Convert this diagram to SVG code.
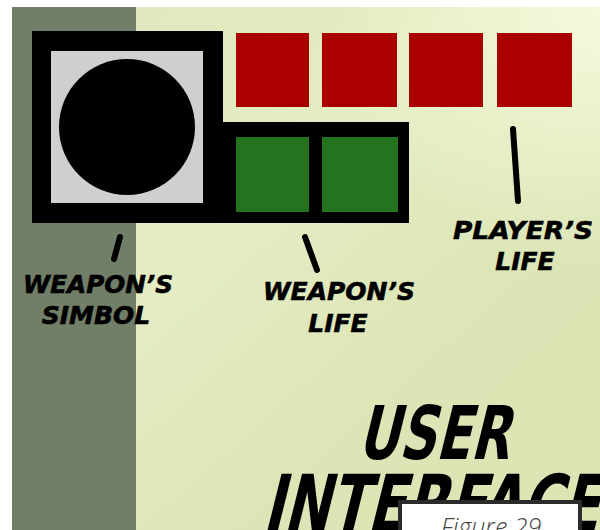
<svg xmlns="http://www.w3.org/2000/svg" width="600" height="530" viewBox="0 0 600 530">
  <defs>
    <linearGradient id="bg" x1="0" y1="0" x2="1" y2="1">
      <stop offset="0" stop-color="#dfe8bb"/>
      <stop offset="0.4" stop-color="#e4edc3"/>
      <stop offset="0.7" stop-color="#dbe5b5"/>
      <stop offset="1" stop-color="#dce6b4"/>
    </linearGradient>
    <radialGradient id="tr" cx="600" cy="10" r="260" gradientUnits="userSpaceOnUse">
      <stop offset="0" stop-color="#f5fadd" stop-opacity="0.95"/>
      <stop offset="1" stop-color="#f5fadd" stop-opacity="0"/>
    </radialGradient>
  </defs>
  <style>
    .red { fill: #ab0000; }
    .green { fill: #25721f; }
    .lbl { font-family: "DejaVu Sans", Verdana, sans-serif; font-weight: bold; font-style: italic; font-size: 25px; fill: #000; stroke: #000; stroke-width: 0.6; text-anchor: middle; }
    .brush { font-family: "DejaVu Sans Condensed", "DejaVu Sans", sans-serif; font-weight: bold; fill: #000; }
    .lead { stroke: #000; stroke-width: 6; stroke-linecap: round; fill: none; }
  </style>

  <!-- background -->
  <rect x="0" y="0" width="600" height="530" fill="#ffffff"/>
  <rect x="12" y="7" width="588" height="523" fill="url(#bg)"/>
  <rect x="136" y="7" width="464" height="523" fill="url(#tr)"/>
  <rect x="12" y="7" width="124" height="523" fill="#717e68"/>

  <!-- weapon symbol + weapon life frame -->
  <g id="weapon-symbol">
    <polygon points="32,31 223,31 223,122 409,122 409,223 32,223" fill="#000"/>
    <rect x="51" y="51" width="152" height="152" fill="#cfcfcf"/>
    <circle cx="127" cy="127" r="68" fill="#000"/>
  </g>

  <g id="weapon-life">
    <rect class="green" x="236" y="137" width="73" height="75"/>
    <rect class="green" x="322" y="137" width="76" height="75"/>
  </g>

  <g id="player-life">
    <rect class="red" x="236" y="33" width="73" height="74"/>
    <rect class="red" x="322" y="33" width="75" height="74"/>
    <rect class="red" x="409" y="33" width="74" height="74"/>
    <rect class="red" x="497" y="33" width="75" height="74"/>
  </g>

  <!-- connectors -->
  <g id="connectors">
    <line class="lead" x1="120" y1="237" x2="114" y2="259"/>
    <line class="lead" x1="305" y1="237" x2="317" y2="270"/>
    <line class="lead" x1="513" y1="129" x2="518" y2="201"/>
  </g>

  <!-- labels -->
  <g id="label-weapon-symbol">
    <text class="lbl" x="98" y="293" textLength="150" lengthAdjust="spacingAndGlyphs">WEAPON’S</text>
    <text class="lbl" x="96" y="324">SIMBOL</text>
  </g>
  <g id="label-weapon-life">
    <text class="lbl" x="339" y="300" textLength="152" lengthAdjust="spacingAndGlyphs">WEAPON’S</text>
    <text class="lbl" x="338" y="332">LIFE</text>
  </g>
  <g id="label-player-life">
    <text class="lbl" x="523" y="239" textLength="140" lengthAdjust="spacingAndGlyphs">PLAYER’S</text>
    <text class="lbl" x="525" y="270">LIFE</text>
  </g>

  <!-- title -->
  <g id="title">
    <text class="brush" transform="translate(357,459) skewX(-14)" x="0" y="0" font-size="74" textLength="152" lengthAdjust="spacingAndGlyphs">USER</text>
    <text class="brush" transform="translate(262,532) skewX(-14)" x="0" y="0" font-size="80" textLength="336" lengthAdjust="spacingAndGlyphs">INTERFACE</text>
  </g>

  <!-- caption -->
  <g id="caption">
    <rect x="400" y="502" width="180" height="40" fill="#ffffff" stroke="#2b2b2b" stroke-width="4"/>
    <text x="491" y="536" font-family="'Open Sans', 'DejaVu Sans', sans-serif" font-weight="300" font-style="italic" font-size="25" fill="#444" text-anchor="middle">Figure 29</text>
  </g>
</svg>
